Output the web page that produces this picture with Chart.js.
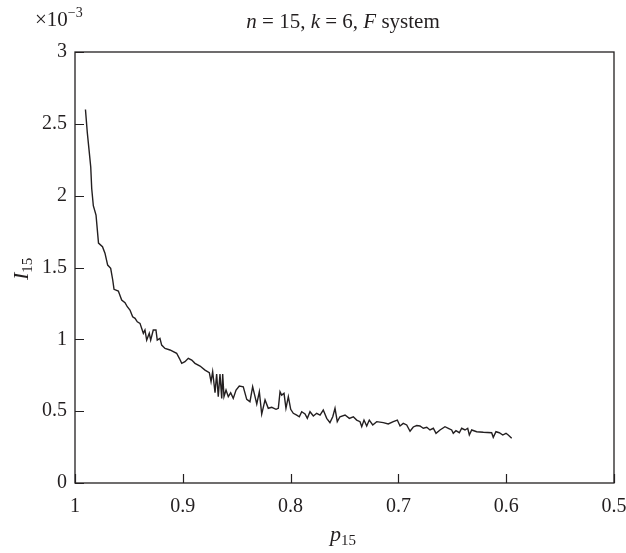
<!DOCTYPE html>
<html>
<head>
<meta charset="utf-8">
<script src="https://cdn.jsdelivr.net/npm/chart.js@4/dist/chart.umd.min.js"></script>
<style>
  html, body { margin: 0; padding: 0; background: #fff; }
  #wrap { width: 626px; height: 553px; position: relative; }
</style>
</head>
<body>
<div id="wrap"><canvas id="chart"></canvas></div>
<script>
// p15 values (x) and I15 values (y, in units of 1e-3)
const pValues = [
  0.9903, 0.9886, 0.9870, 0.9854, 0.9845, 0.9830, 0.9805, 0.9782, 0.9745, 0.9722,
  0.9697, 0.9669, 0.9650, 0.9638, 0.9598, 0.9567, 0.9536, 0.9515, 0.9490, 0.9465,
  0.9443, 0.9422, 0.9397, 0.9381, 0.9366, 0.9351, 0.9335, 0.9311, 0.9298, 0.9274,
  0.9249, 0.9237, 0.9212, 0.9196, 0.9165, 0.9119, 0.9057, 0.9032, 0.9010, 0.8980,
  0.8949, 0.8917, 0.8887, 0.8840, 0.8794, 0.8754, 0.8738, 0.8723, 0.8701, 0.8686,
  0.8671, 0.8655, 0.8639, 0.8630, 0.8618, 0.8599, 0.8578, 0.8556, 0.8532, 0.8506,
  0.8476, 0.8439, 0.8407, 0.8377, 0.8352, 0.8330, 0.8314, 0.8290, 0.8268, 0.8237,
  0.8207, 0.8175, 0.8135, 0.8114, 0.8098, 0.8083, 0.8061, 0.8043, 0.8021, 0.7999,
  0.7975, 0.7943, 0.7919, 0.7897, 0.7866, 0.7845, 0.7820, 0.7789, 0.7758, 0.7727,
  0.7697, 0.7665, 0.7635, 0.7609, 0.7588, 0.7567, 0.7542, 0.7495, 0.7455, 0.7418,
  0.7387, 0.7356, 0.7340, 0.7319, 0.7294, 0.7270, 0.7238, 0.7201, 0.7140, 0.7094,
  0.7047, 0.7010, 0.6985, 0.6955, 0.6923, 0.6892, 0.6862, 0.6830, 0.6800, 0.6769,
  0.6737, 0.6707, 0.6676, 0.6651, 0.6614, 0.6568, 0.6537, 0.6506, 0.6491, 0.6466,
  0.6435, 0.6413, 0.6382, 0.6357, 0.6342, 0.6320, 0.6274, 0.6212, 0.6135, 0.6120,
  0.6095, 0.6064, 0.6032, 0.6002, 0.5981, 0.5949
];
const iValues = [
  2.600, 2.440, 2.320, 2.200, 2.050, 1.930, 1.865, 1.670, 1.645, 1.600,
  1.517, 1.494, 1.413, 1.348, 1.336, 1.273, 1.255, 1.227, 1.204, 1.157,
  1.146, 1.122, 1.111, 1.076, 1.042, 1.065, 0.995, 1.042, 0.995, 1.065,
  1.065, 0.995, 1.007, 0.960, 0.937, 0.926, 0.903, 0.868, 0.833, 0.844,
  0.868, 0.856, 0.833, 0.814, 0.786, 0.768, 0.705, 0.775, 0.628, 0.759,
  0.601, 0.759, 0.589, 0.759, 0.601, 0.647, 0.601, 0.628, 0.589, 0.647,
  0.675, 0.670, 0.582, 0.566, 0.670, 0.601, 0.550, 0.635, 0.480, 0.578,
  0.520, 0.527, 0.513, 0.520, 0.635, 0.612, 0.624, 0.520, 0.601, 0.513,
  0.485, 0.473, 0.461, 0.496, 0.480, 0.450, 0.496, 0.466, 0.485, 0.473,
  0.508, 0.450, 0.420, 0.461, 0.520, 0.427, 0.461, 0.473, 0.450, 0.461,
  0.438, 0.427, 0.392, 0.438, 0.397, 0.438, 0.404, 0.427, 0.420, 0.411,
  0.427, 0.438, 0.397, 0.415, 0.404, 0.360, 0.390, 0.400, 0.397, 0.381,
  0.388, 0.369, 0.381, 0.346, 0.369, 0.392, 0.381, 0.369, 0.346, 0.364,
  0.350, 0.381, 0.369, 0.381, 0.334, 0.369, 0.357, 0.353, 0.350, 0.318,
  0.357, 0.350, 0.334, 0.346, 0.334, 0.311
];
const xTicks = [1, 0.9, 0.8, 0.7, 0.6, 0.5];
const yTicks = [0, 0.5, 1, 1.5, 2, 2.5, 3];

const FONT = '"Liberation Serif", "DejaVu Serif", serif';
const INK = '#231f20';

// draw a run of [text, italic, size, dy] pieces starting at x
function drawRich(ctx, parts, x, y, align) {
  let total = 0;
  parts.forEach(p => {
    ctx.font = (p[1] ? 'italic ' : '') + p[2] + 'px ' + FONT;
    total += ctx.measureText(p[0]).width;
  });
  let cx = align === 'center' ? x - total / 2 : x;
  ctx.textAlign = 'left';
  ctx.textBaseline = 'alphabetic';
  parts.forEach(p => {
    ctx.font = (p[1] ? 'italic ' : '') + p[2] + 'px ' + FONT;
    ctx.fillText(p[0], cx, y + (p[3] || 0));
    cx += ctx.measureText(p[0]).width;
  });
}

const decorations = {
  id: 'decorations',
  afterDraw(chart) {
    const ctx = chart.ctx;
    const a = chart.chartArea;
    const xs = chart.scales.x, ys = chart.scales.y;
    ctx.save();
    // frame
    ctx.strokeStyle = INK;
    ctx.lineWidth = 1.3;
    ctx.strokeRect(a.left, a.top, a.right - a.left, a.bottom - a.top);
    // inward ticks
    ctx.lineWidth = 1.2;
    ctx.beginPath();
    xTicks.forEach(v => {
      const px = Math.round(xs.getPixelForValue(v)) + 0.5;
      ctx.moveTo(px, a.bottom);
      ctx.lineTo(px, a.bottom - 9);
    });
    yTicks.forEach(v => {
      const py = Math.round(ys.getPixelForValue(v)) + 0.5;
      ctx.moveTo(a.left, py);
      ctx.lineTo(a.left + 9, py);
    });
    ctx.stroke();
    ctx.fillStyle = INK;
    // title
    drawRich(ctx, [
      ['n', true, 21], [' = 15, ', false, 21], ['k', true, 21],
      [' = 6, ', false, 21], ['F', true, 21], [' system', false, 21]
    ], 343, 28, 'center');
    // exponent marker
    drawRich(ctx, [['\u00d710', false, 21], ['\u22123', false, 14, -9]], 35, 26, 'left');
    // x axis label
    drawRich(ctx, [['p', true, 22], ['15', false, 15, 4]], 330, 541, 'left');
    // y axis label
    ctx.save();
    ctx.translate(28, 267);
    ctx.rotate(-Math.PI / 2);
    drawRich(ctx, [['I', true, 22], ['15', false, 15, 4]], -13, 0, 'left');
    ctx.restore();
    ctx.restore();
  }
};

new Chart(document.getElementById('chart'), {
  type: 'line',
  data: {
    datasets: [{
      data: pValues.map((p, i) => ({ x: p, y: iValues[i] })),
      borderColor: INK,
      borderWidth: 1.4,
      pointRadius: 0,
      tension: 0,
      fill: false
    }]
  },
  options: {
    responsive: true,
    maintainAspectRatio: false,
    animation: false,
    layout: { padding: { left: 0, right: 12, top: 52, bottom: 0 } },
    plugins: {
      legend: { display: false },
      tooltip: { enabled: false }
    },
    scales: {
      x: {
        type: 'linear',
        reverse: true,
        min: 0.5,
        max: 1,
        afterBuildTicks: s => { s.ticks = xTicks.map(v => ({ value: v })); },
        afterFit: s => { s.height = 70; s.paddingLeft = 0; s.paddingRight = 0; },
        grid: { display: false, drawTicks: false },
        border: { display: false },
        ticks: {
          padding: 12,
          color: INK,
          font: { family: FONT, size: 20 },
          callback: v => String(+v.toFixed(1))
        }
      },
      y: {
        type: 'linear',
        min: 0,
        max: 3,
        afterBuildTicks: s => { s.ticks = yTicks.map(v => ({ value: v })); },
        afterFit: s => { s.width = 75; s.paddingTop = 0; s.paddingBottom = 0; },
        grid: { display: false, drawTicks: false },
        border: { display: false },
        ticks: {
          padding: 8,
          color: INK,
          font: { family: FONT, size: 20 },
          callback: v => String(+v.toFixed(1))
        }
      }
    }
  },
  plugins: [decorations]
});
</script>
</body>
</html>
